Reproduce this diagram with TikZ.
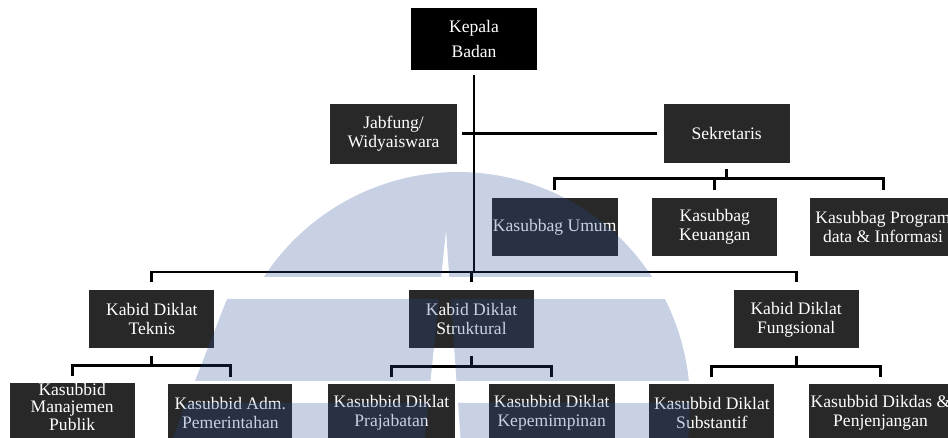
\documentclass[tikz,border=0pt]{standalone}
\usepackage{fontspec}
\setmainfont{Liberation Serif}
\usetikzlibrary{positioning,calc}
\definecolor{boxgray}{RGB}{40,40,40}
\definecolor{markblue}{RGB}{38,77,146}
\tikzstyle{unit} = [draw=none,
					fill=boxgray,
					text=white,
					inner sep=0pt,
					minimum width=2.5cm,
					minimum height=1.16cm,
					align=center,
					font=\fontsize{10}{10.8}\selectfont]
\tikzstyle{link} = [draw=black,
					line width=1.7pt]
\tikzstyle{watermark} = [draw=none,
						 fill=markblue,
						 fill opacity=.26]
\begin{document}
\begin{tikzpicture}[x=0.02cm, y=-0.02cm]
	\useasboundingbox (0,0) rectangle (948,438);
	\clip (0,0) rectangle (948,438);

	%%%%%%%%%%%%
	% TOP      %
	%%%%%%%%%%%%
	\node[unit, fill=black, minimum width=2.52cm, minimum height=1.24cm, font=\fontsize{10}{14.5}\selectfont] (kep) at (474,39) {Kepala\\Badan};
	\node[unit, below=0.66cm of kep, xshift=-1.61cm, minimum width=2.54cm, minimum height=1.2cm] (jab) {Jabfung/\\Widyaiswara};
	\node[unit, right=4.12cm of jab, minimum width=2.52cm, minimum height=1.18cm] (sek) {Sekretaris};

	%%%%%%%%%%%%
	% KASUBBAG %
	%%%%%%%%%%%%
	\node[unit, below=0.68cm of sek, xshift=-3.44cm, minimum width=2.52cm] (umum) {Kasubbag Umum};
	\node[unit, right=0.68cm of umum] (keu) {Kasubbag\\Keuangan};
	\node[unit, right=0.64cm of keu, minimum width=2.92cm] (prog) {Kasubbag Program\\data \& Informasi};

	%%%%%%%%%%%%
	% KABID    %
	%%%%%%%%%%%%
	\node[unit, below=2.52cm of jab, xshift=1.56cm] (str) {Kabid Diklat\\Struktural};
	\node[unit, left=3.88cm of str] (tek) {Kabid Diklat\\Teknis};
	\node[unit, right=3.98cm of str] (fun) {Kabid Diklat\\Fungsional};

	%%%%%%%%%%%%
	% KASUBBID %
	%%%%%%%%%%%%
	\node[unit, below=0.7cm of str, xshift=-1.6cm, minimum width=2.54cm] (pra) {Kasubbid Diklat\\Prajabatan};
	\node[unit, right=0.66cm of pra, minimum width=2.52cm] (kpm) {Kasubbid Diklat\\Kepemimpinan};
	\node[unit, left=0.7cm of pra, minimum width=2.48cm] (adm) {Kasubbid Adm.\\Pemerintahan};
	\node[unit, left=0.66cm of adm, font=\fontsize{10}{10}\selectfont, text depth=7pt] (man) {Kasubbid\\Manajemen\\Publik};
	\node[unit, right=0.68cm of kpm] (sub) {Kasubbid Diklat\\Substantif};
	\node[unit, right=0.68cm of sub, minimum width=2.86cm] (dik) {Kasubbid Dikdas \&\\Penjenjangan};

	% lines
	\coordinate (mbus) at ([yshift=0.36cm]str.north);
	\coordinate (sbus) at ([yshift=0.38cm]keu.north);
	\draw[link] ([yshift=-0.1cm]kep.south) -- (kep.south |- mbus);
	\draw[link] ([xshift=0.1cm]jab.east) -- ([xshift=-0.12cm]sek.west);

	\draw[link] ([yshift=-0.1cm]sek.south) -- (sek.south |- sbus);
	\draw[link] ([yshift=0.16cm]umum.north) -- (umum.north |- sbus) -- (prog.north |- sbus) -- ([yshift=0.16cm]prog.north);
	\draw[link] (keu.north |- sbus) -- ([yshift=0.16cm]keu.north);

	\draw[link] ([yshift=0.16cm]tek.north) -- (tek.north |- mbus) -- (fun.north |- mbus) -- ([yshift=0.16cm]fun.north);
	\draw[link] (str.north |- mbus) -- ([yshift=0.16cm]str.north);

	\foreach \head/\lft/\rgt in {tek/man/adm, str/pra/kpm, fun/sub/dik}{
		\coordinate (bus\head) at ($(\head.south)!.5!(\lft.north)$);
		\draw[link] ([yshift=-0.14cm]\head.south) -- (\head.south |- bus\head);
		\draw[link] ([yshift=0.14cm]\lft.north) -- (\lft.north |- bus\head) -- (\rgt.north |- bus\head) -- ([yshift=0.14cm]\rgt.north);
	}

	% watermark
	\fill[watermark]
		(263.9,277) -- plot[domain=146.8:33.2, samples=60] ({458+232*cos(\x)},{404-232*sin(\x)})
			-- (449.3,277) -- (446,230) -- (441.2,277) -- cycle
		(227,299) -- (438.9,299) -- (430.5,381) -- (195,381) -- cycle
		(450.8,299) -- plot[domain=26.9:5.69, samples=20] ({458+232*cos(\x)},{404-232*sin(\x)})
			-- (456.5,381) -- cycle
		(186,403) -- (428.3,403) -- (424,445) -- (170,445) -- cycle
		(458.1,403) -- (690,403) -- (688,445) -- (461,445) -- cycle;
\end{tikzpicture}
\end{document}
